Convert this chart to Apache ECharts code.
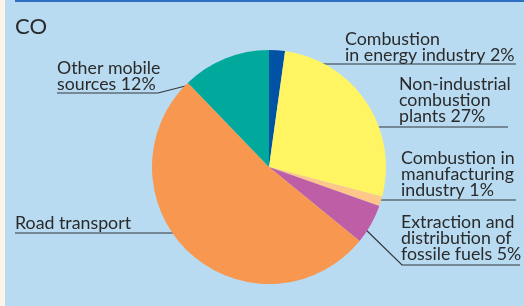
<!DOCTYPE html>
<html><head><meta charset="utf-8">
<script src="https://cdn.jsdelivr.net/npm/echarts@6/dist/echarts.min.js"></script>
<style>html,body{margin:0;padding:0;background:#b8dbf2}#c{width:524px;height:306px}</style>
</head><body><div id="c"></div>
<script>
// Data
const categories = ['Combustion in energy industry', 'Non-industrial combustion plants', 'Combustion in manufacturing industry', 'Extraction and distribution of fossile fuels', 'Road transport', 'Other mobile sources'];
const values = [2.2, 26.9, 1.3, 5.5, 51.9, 12.2];
const labelTexts = ['Combustion\nin energy industry 2%', 'Non-industrial\ncombustion\nplants 27%', 'Combustion in\nmanufacturing\nindustry 1%', 'Extraction and\ndistribution of\nfossile fuels 5%', 'Road transport', 'Other mobile\nsources 12%'];
const colors = ['#0053a4', '#fff462', '#fec689', '#be5ea6', '#f89750', '#00a99c'];

// Layout (label anchor: left x, bottom y) and leader lines
const labelAnchors = [[345, 63], [399, 124], [401, 198], [401, 262], [15, 231], [57, 92.5]];
const leaderPoints = [
  [[275, 64], [300, 64], [516, 64]],
  [[365, 127], [400, 127], [508, 127]],
  [[370, 200], [400, 200], [516, 200]],
  [[361, 225], [402, 265], [520, 265]],
  [[185, 233], [150, 233], [15, 233]],
  [[205, 81], [158, 93], [57, 93]]
];

const FONT = 'Lato';
const chart = echarts.init(document.getElementById('c'), null, {renderer: 'canvas'});
chart.setOption({
  backgroundColor: '#b8dbf2',
  animation: false,
  title: {text: 'CO', left: 15, top: 16, padding: 0,
    textStyle: {fontFamily: FONT, fontSize: 22, fontWeight: 'normal', color: '#2b2b2b'}},
  graphic: [
    {type: 'rect', shape: {x: 0, y: 0, width: 5, height: 306}, style: {fill: '#fdf3e7'}, silent: true},
    {type: 'rect', shape: {x: 15, y: 0, width: 509, height: 2}, style: {fill: '#2f6fbf'}, silent: true}
  ],
  series: [{
    type: 'pie',
    center: [269, 167],
    radius: 117,
    startAngle: 90,
    clockwise: true,
    avoidLabelOverlap: false,
    emphasis: {disabled: true},
    data: values.map((v, i) => ({name: categories[i], value: v, itemStyle: {color: colors[i]}})),
    label: {show: true, position: 'outside', formatter: p => labelTexts[p.dataIndex],
      fontFamily: FONT, fontSize: 17.8, lineHeight: 16, color: '#2a2a2a', align: 'left'},
    labelLine: {show: true, smooth: false, lineStyle: {color: '#33363b', width: 1.2}},
    labelLayout: p => {
      const i = p.dataIndex;
      return {x: labelAnchors[i][0], y: labelAnchors[i][1], align: 'left', verticalAlign: 'bottom',
        labelLinePoints: leaderPoints[i]};
    }
  }]
});
</script></body></html>
